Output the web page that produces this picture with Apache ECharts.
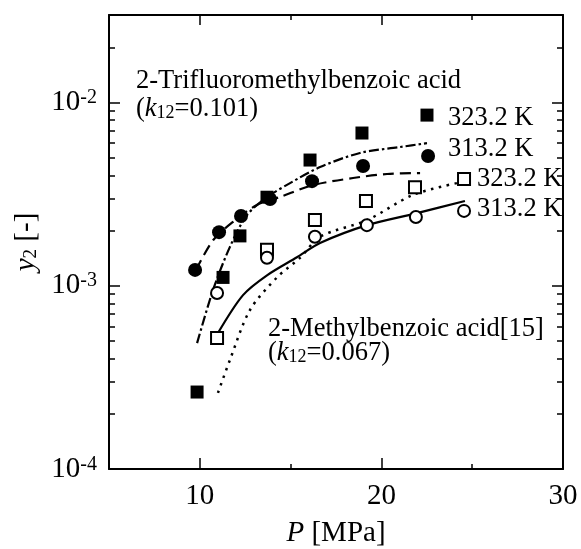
<!DOCTYPE html>
<html>
<head>
<meta charset="utf-8">
<script src="https://cdn.jsdelivr.net/npm/echarts@6/dist/echarts.min.js"></script>
<style>
html, body { margin: 0; padding: 0; background: #fff; }
#main { width: 581px; height: 549px; }
</style>
</head>
<body>
<div id="main"></div>
<script>
// measured points: P [MPa], y2 [-]
var tf323P = [9.85, 11.28, 12.21, 13.70, 16.07, 18.93, 22.51];
var tf323Y = [2.63e-4, 1.11e-3, 1.87e-3, 3.04e-3, 4.85e-3, 6.81e-3, 8.53e-3];
var tf313P = [9.74, 11.06, 12.27, 13.87, 16.18, 18.99, 22.57];
var tf313Y = [1.22e-3, 1.96e-3, 2.40e-3, 2.97e-3, 3.72e-3, 4.50e-3, 5.10e-3];
var mb323P = [10.95, 13.70, 16.34, 19.15, 21.85, 24.55];
var mb323Y = [5.19e-4, 1.57e-3, 2.28e-3, 2.90e-3, 3.45e-3, 3.82e-3];
var mb313P = [10.95, 13.70, 16.34, 19.20, 21.90, 24.55];
var mb313Y = [9.12e-4, 1.42e-3, 1.85e-3, 2.14e-3, 2.37e-3, 2.56e-3];

// correlated curves
var tf323CalcP = [9.85, 10.73, 11.66, 12.60, 13.70, 14.97, 16.62, 18.82, 21.02, 22.51];
var tf323CalcY = [4.86e-4, 9.48e-4, 1.63e-3, 2.43e-3, 3.04e-3, 3.63e-3, 4.44e-3, 5.30e-3, 5.71e-3, 6.00e-3];
var tf313CalcP = [9.79, 10.73, 11.83, 13.15, 14.42, 16.23, 18.44, 20.31, 22.13];
var tf313CalcY = [1.22e-3, 1.77e-3, 2.23e-3, 2.76e-3, 3.05e-3, 3.54e-3, 3.87e-3, 4.07e-3, 4.12e-3];
var mb313CalcP = [11.00, 12.38, 13.70, 15.35, 16.62, 19.21, 21.96, 24.60];
var mb313CalcY = [5.52e-4, 8.89e-4, 1.14e-3, 1.43e-3, 1.71e-3, 2.14e-3, 2.49e-3, 2.90e-3];
var mb323CalcP = [11.00, 11.66, 12.76, 14.25, 15.52, 16.62, 19.21, 21.74, 24.16];
var mb323CalcY = [2.60e-4, 3.94e-4, 7.36e-4, 1.11e-3, 1.42e-3, 1.85e-3, 2.28e-3, 3.13e-3, 3.63e-3];

// ticks
var xLabelVals = [10, 20, 30];
var xMajorTicks = [10, 20];
var xMinorTicks = [15, 25];
var yLabelVals = [1e-4, 1e-3, 1e-2];
var yMajorTicks = [1e-3, 1e-2];
var yMinorTicks = [2e-4, 3e-4, 4e-4, 5e-4, 6e-4, 7e-4, 8e-4, 9e-4,
                   2e-3, 3e-3, 4e-3, 5e-3, 6e-3, 7e-3, 8e-3, 9e-3, 2e-2];

var SERIF = 'Liberation Serif';

function pairs(xs, ys) {
  return xs.map(function (x, i) { return [x, ys[i]]; });
}

function xAx(pos, ticks, len, line, label) {
  return {
    type: 'value', position: pos, min: 5, max: 30,
    axisLine: { show: line, onZero: false, lineStyle: { color: '#000', width: 2 } },
    axisTick: { show: true, inside: true, length: len, customValues: ticks, lineStyle: { color: '#000', width: 1.5 } },
    axisLabel: label ? {
      customValues: xLabelVals, color: '#000', fontFamily: SERIF, fontSize: 29, margin: 13
    } : { show: false },
    splitLine: { show: false }
  };
}

function yAx(pos, ticks, len, line, label) {
  return {
    type: 'log', logBase: 10, position: pos, min: 1e-4, max: 3e-2,
    axisLine: { show: line, onZero: false, lineStyle: { color: '#000', width: 2 } },
    axisTick: { show: true, inside: true, length: len, customValues: ticks, lineStyle: { color: '#000', width: 1.5 } },
    axisLabel: label ? {
      customValues: yLabelVals, margin: 12,
      formatter: function (v) { return '{b|10}{s|' + Math.round(Math.log10(v)) + '}'; },
      rich: {
        b: { fontFamily: SERIF, fontSize: 29, color: '#000' },
        s: { fontFamily: SERIF, fontSize: 20, color: '#000', verticalAlign: 'top' }
      }
    } : { show: false },
    splitLine: { show: false }
  };
}

var chart = echarts.init(document.getElementById('main'));

var xAxes = [
  xAx('bottom', xMajorTicks, 11, true, true),
  xAx('bottom', xMinorTicks, 5, false, false),
  xAx('top', xMajorTicks, 10, true, false),
  xAx('top', xMinorTicks, 5, false, false)
];
xAxes[0].name = '{i|P} [MPa]';
xAxes[0].nameLocation = 'middle';
xAxes[0].nameGap = 50;
xAxes[0].nameTextStyle = {
  fontFamily: SERIF, fontSize: 29, color: '#000',
  rich: { i: { fontFamily: SERIF, fontSize: 29, fontStyle: 'italic', color: '#000' } }
};

var yAxes = [
  yAx('left', yMajorTicks, 11, true, true),
  yAx('left', yMinorTicks, 6, false, false),
  yAx('right', yMajorTicks, 11, true, false),
  yAx('right', yMinorTicks, 6, false, false)
];
yAxes[0].name = '{i|y}{s|2} [-]';
yAxes[0].nameLocation = 'middle';
yAxes[0].nameRotate = 90;
yAxes[0].nameGap = 67;
yAxes[0].nameTextStyle = {
  fontFamily: SERIF, fontSize: 29, color: '#000',
  rich: {
    i: { fontFamily: SERIF, fontSize: 29, fontStyle: 'italic', color: '#000' },
    s: { fontFamily: SERIF, fontSize: 19, color: '#000', verticalAlign: 'bottom' }
  }
};

var lineBase = { type: 'line', symbol: 'none', smooth: 0.3, silent: true, z: 2 };
function calc(data, dash, w) {
  return Object.assign({}, lineBase, {
    data: data,
    lineStyle: { color: '#000', width: w, type: dash, opacity: 1 }
  });
}
function pts(data, sym, size, filled) {
  return {
    type: 'scatter', data: data, symbol: sym, symbolSize: size, z: 3,
    itemStyle: filled
      ? { color: '#000', opacity: 1 }
      : { color: '#fff', borderColor: '#000', borderWidth: 2, opacity: 1 }
  };
}

var textRich = {
  i: { fontFamily: SERIF, fontSize: 26.5, fontStyle: 'italic', fill: '#000' },
  s: { fontFamily: SERIF, fontSize: 18, fill: '#000', verticalAlign: 'bottom' }
};
function note(str, x, y) {
  return {
    type: 'text', x: x, y: y, z: 10,
    style: {
      text: str, fill: '#000', fontFamily: SERIF, fontSize: 26.5,
      verticalAlign: 'middle', align: 'left', rich: textRich
    }
  };
}

chart.setOption({
  animation: false,
  backgroundColor: '#fff',
  grid: { left: 109, right: 18, top: 15, bottom: 80, outerBoundsMode: 'none', containLabel: false },
  xAxis: xAxes,
  yAxis: yAxes,
  series: [
    calc(pairs(tf323CalcP, tf323CalcY), [10, 3, 2.5, 3], 2.2),
    calc(pairs(tf313CalcP, tf313CalcY), [11, 6], 2.2),
    calc(pairs(mb313CalcP, mb313CalcY), 'solid', 2.2),
    calc(pairs(mb323CalcP, mb323CalcY), [2.5, 5.5], 2.5),
    pts(pairs(tf323P, tf323Y), 'rect', 13, true),
    pts(pairs(tf313P, tf313Y), 'circle', 14, true),
    pts(pairs(mb323P, mb323Y), 'rect', 12, false),
    pts(pairs(mb313P, mb313Y), 'circle', 12, false)
  ],
  graphic: [
    note('2-Trifluoromethylbenzoic acid', 136, 81),
    note('({i|k}{s|12}=0.101)', 136, 109),
    note('323.2 K', 448, 118),
    note('313.2 K', 448, 149),
    note('323.2 K', 477, 179),
    note('313.2 K', 477, 209),
    note('2-Methylbenzoic acid[15]', 268, 329),
    note('({i|k}{s|12}=0.067)', 268, 353)
  ]
});
</script>
</body>
</html>
